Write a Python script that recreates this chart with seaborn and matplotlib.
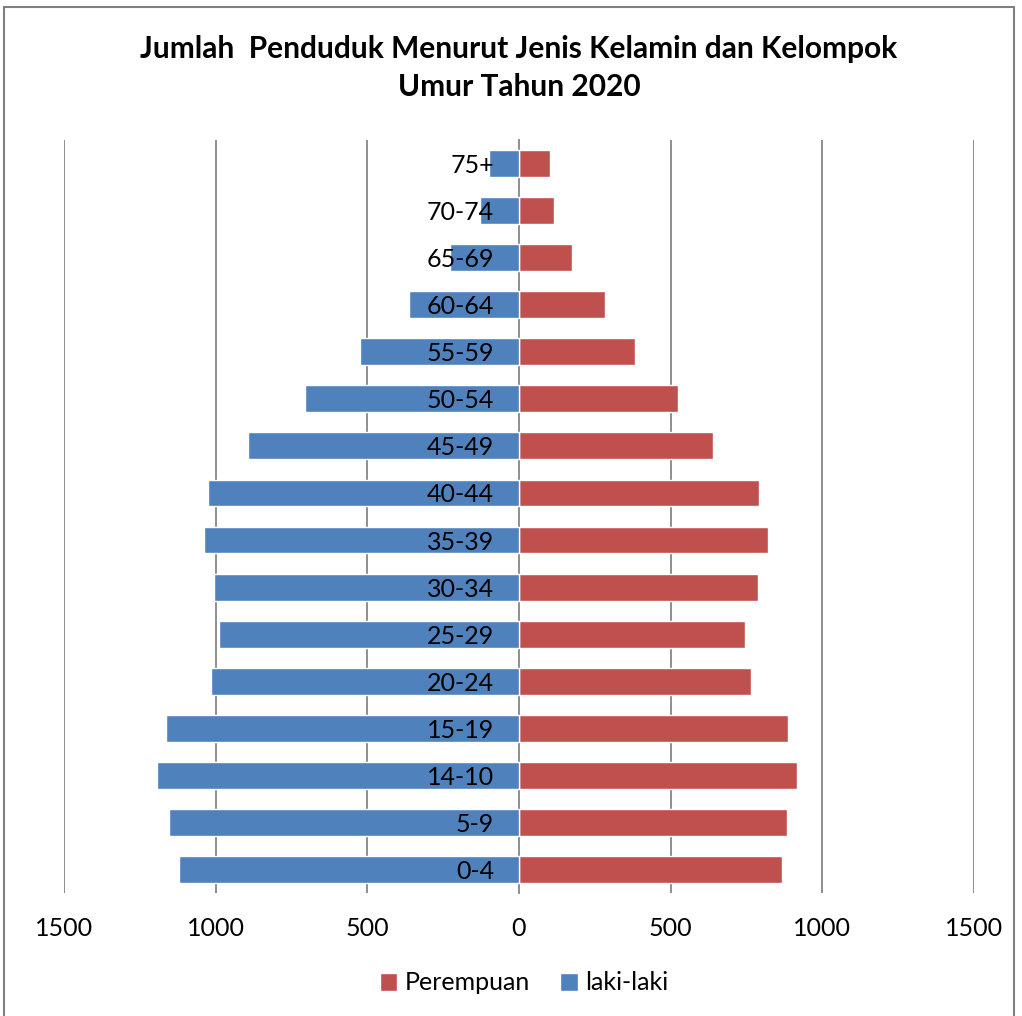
import pandas as pd
import matplotlib
matplotlib.use('Agg')
import matplotlib.pyplot as plt
import seaborn as sns
from matplotlib.ticker import FuncFormatter
from matplotlib.patches import Rectangle

# kelompok umur, dari bawah (0-4) ke atas (75+)
umur = ['0-4', '5-9', '14-10', '15-19', '20-24', '25-29', '30-34', '35-39',
        '40-44', '45-49', '50-54', '55-59', '60-64', '65-69', '70-74', '75+']
laki_laki = [1122, 1154, 1195, 1165, 1016, 989, 1004, 1039,
             1024, 895, 705, 523, 362, 226, 130, 99]
perempuan = [868, 882, 915, 887, 765, 745, 789, 821,
             790, 638, 523, 383, 283, 174, 115, 102]
x_ticks = [-1500, -1000, -500, 0, 500, 1000, 1500]

BLUE = '#4F81BD'
RED = '#C0504D'
GRID = '#868686'

sns.set_theme(style='white')
plt.rcParams['font.family'] = ['Lato', 'DejaVu Sans']
plt.rcParams['text.color'] = 'black'

df = pd.DataFrame({
    'umur': umur * 2,
    'jumlah': [-v for v in laki_laki] + perempuan,
    'jenis': ['laki-laki'] * len(umur) + ['Perempuan'] * len(umur),
})

fig = plt.figure(figsize=(10.22, 10.16), dpi=100)
ax = fig.add_axes([64 / 1022, 1 - 893 / 1016, 910 / 1022, 753 / 1016])

sns.barplot(data=df, y='umur', x='jumlah', hue='jenis', order=umur[::-1],
            hue_order=['Perempuan', 'laki-laki'], palette=[RED, BLUE],
            dodge=False, width=0.57, orient='h', ax=ax, saturation=1, zorder=1)

ax.set_xlim(-1500, 1500)
ax.set_ylim(15.5, -0.5)
ax.set_xticks(x_ticks)
ax.xaxis.set_major_formatter(FuncFormatter(lambda v, p: f'{abs(int(v))}'))
# garis grid di bawah batang, label umur di atas batang
ax.set_axisbelow(False)
ax.grid(False)
for t in x_ticks:
    if t != 0:
        ax.axvline(t, color=GRID, lw=1.3, zorder=0.5)
for s in ['top', 'right', 'bottom']:
    ax.spines[s].set_visible(False)
ax.spines['left'].set_position(('data', 0))
ax.spines['left'].set_color(GRID)
ax.spines['left'].set_linewidth(1.3)
ax.spines['left'].set_zorder(0.6)
ax.tick_params(axis='x', length=0, pad=17, labelsize=18, labelcolor='black')
ax.tick_params(axis='y', length=0, pad=18, labelsize=18, labelcolor='black')
ax.set_xlabel('')
ax.set_ylabel('')

handles, labels = ax.get_legend_handles_labels()
ax.get_legend().remove()
fig.legend(handles, labels, loc='center', bbox_to_anchor=(524 / 1022, 1 - 983 / 1016),
           ncol=2, frameon=False, fontsize=18, handlelength=0.7, handleheight=0.7,
           handletextpad=0.3, columnspacing=1.2, labelcolor='black')

fig.text(519 / 1022, 1 - 68 / 1016,
         'Jumlah  Penduduk Menurut Jenis Kelamin dan Kelompok\nUmur Tahun 2020',
         ha='center', va='center', fontsize=21.5, fontweight='bold',
         linespacing=1.45, color='black')

fig.patches.append(Rectangle((4 / 1022, -0.05), 1010 / 1022, 1.05 - 7 / 1016,
                             transform=fig.transFigure, fill=False,
                             edgecolor='#7f7f7f', lw=1.5))

fig.savefig('out.png', dpi=100)
